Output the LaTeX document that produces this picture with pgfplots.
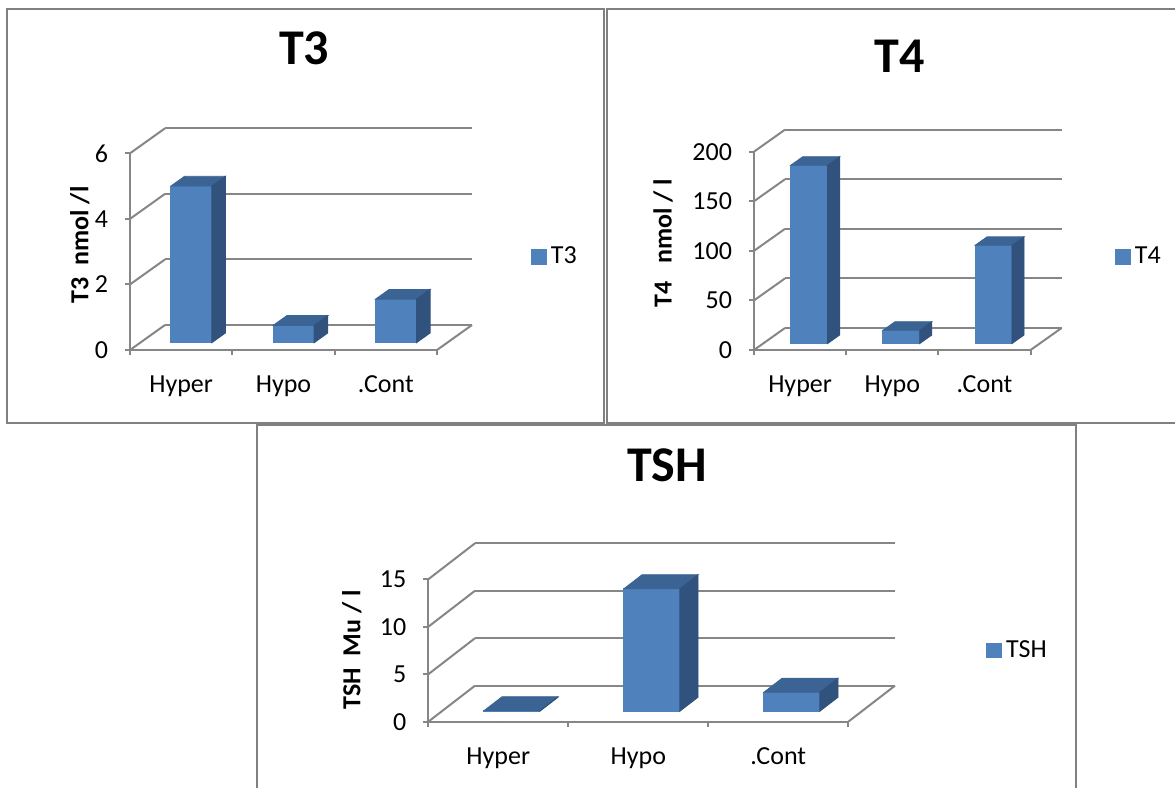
\documentclass[border=0pt]{standalone}
\usepackage{fontspec}
\setmainfont{Carlito}
\usepackage{pgfplots}
\pgfplotsset{compat=1.18}
\usetikzlibrary{calc}
\definecolor{barfront}{HTML}{4F81BD}
\definecolor{bartop}{HTML}{3B6494}
\definecolor{barside}{HTML}{31527D}
\definecolor{gridc}{HTML}{868686}
\definecolor{framec}{HTML}{808080}

\pgfplotsset{
  panel/.style={
    scale only axis, clip=false,
    xmin=0, xmax=3, ymin=0,
    anchor=south west,
    axis x line*=bottom, axis y line*=left,
    axis line style={gridc, line width=1pt, -},
    tick align=outside,
    xtick={0.5,1.5,2.5}, xticklabels={Hyper,Hypo,.Cont},
    major x tick style={draw=none},
    minor xtick={0,1,2,3},
    major tick length=2.5pt, minor tick length=2.5pt,
    tick style={gridc, line width=1pt},
    ticklabel style={font=\fontsize{13}{15}\selectfont, text=black},
    /pgf/number format/assume math mode=true,
    yticklabel style={xshift=-5pt},
    xticklabel style={yshift=-7pt},
    title style={font=\fontsize{25}{30}\selectfont\bfseries, anchor=center},
    ylabel style={font=\fontsize{13}{15}\selectfont\bfseries, anchor=center},
    legend style={draw=none, fill=none, inner sep=0pt, anchor=west,
      font=\fontsize{13}{15}\selectfont, legend cell align=left},
  },
  grid3d/.style={gridc, line width=1pt, forget plot, mark=none},
  bar3d/.style 2 args={
    scatter, only marks, mark=*, mark size=0pt,
    mark options={draw=none, fill=none},
    visualization depends on={rawy \as \barval},
    scatter/@pre marker code/.code={%
      \pgfmathsetlengthmacro\sax{0.29*#1*0.5pt}%
      \pgfmathsetlengthmacro\say{0.29*#2*0.5pt}%
      \pgfmathsetlengthmacro\sbx{0.68*#1*0.5pt}%
      \pgfmathsetlengthmacro\sby{0.68*#2*0.5pt}%
      \fill[barfront] ($(axis direction cs:-0.2,-\barval)+(\sax,\say)$) rectangle ($(axis direction cs:0.2,0)+(\sax,\say)$);
      \fill[bartop] ($(axis direction cs:-0.2,0)+(\sax,\say)$) -- ($(axis direction cs:0.2,0)+(\sax,\say)$) -- ($(axis direction cs:0.2,0)+(\sbx,\sby)$) -- ($(axis direction cs:-0.2,0)+(\sbx,\sby)$) -- cycle;
      \fill[barside] ($(axis direction cs:0.2,0)+(\sax,\say)$) -- ($(axis direction cs:0.2,-\barval)+(\sax,\say)$) -- ($(axis direction cs:0.2,-\barval)+(\sbx,\sby)$) -- ($(axis direction cs:0.2,0)+(\sbx,\sby)$) -- cycle;
    },
    scatter/@post marker code/.code={},
    legend image code/.code={\fill[barfront] (0pt,-3.7pt) rectangle (7.4pt,3.7pt);},
  },
}

\begin{document}
\begin{tikzpicture}
\useasboundingbox (0,0) rectangle (587.5pt,394pt);
% frames
\draw[framec, line width=1pt] (3.65pt,389.35pt) rectangle (302pt,182.65pt);
\draw[framec, line width=1pt] (587.5pt,389.35pt) -- (303.65pt,389.35pt) -- (303.65pt,182.65pt) -- (587.5pt,182.65pt);
\draw[framec, line width=1pt] (128.65pt,0pt) -- (128.65pt,181.35pt) -- (538pt,181.35pt) -- (538pt,0pt);

% ---------------- T3 ----------------
\begin{axis}[panel, at={(65pt,219pt)}, x=51.17pt, y=16.39pt, ymax=6, ytick={0,2,4,6},
  title={T3}, title style={at={(axis description cs:0.567,1.474)}},
  ylabel={T3\ \ nmol /l}, ylabel style={at={(axis description cs:-0.163,0.534)}},
  legend style={at={(axis description cs:1.306,0.473)}}]
\addplot[grid3d] coordinates {(0.342,0.763) (3.342,0.763)};
\addplot[grid3d] coordinates {(0.342,2.763) (3.342,2.763)};
\addplot[grid3d] coordinates {(0.342,4.763) (3.342,4.763)};
\addplot[grid3d] coordinates {(0.342,6.763) (3.342,6.763)};
\addplot[grid3d] coordinates {(0,0) (0.342,0.763)};
\addplot[grid3d] coordinates {(0,2) (0.342,2.763)};
\addplot[grid3d] coordinates {(0,4) (0.342,4.763)};
\addplot[grid3d] coordinates {(0,6) (0.342,6.763)};
\addplot[grid3d] coordinates {(3,0) (3.342,0.763)};
\addplot[bar3d={35}{25}] coordinates {(0.5,4.78) (1.5,0.53) (2.5,1.33)};
\addlegendentry{T3}
\end{axis}

% ---------------- T4 ----------------
\begin{axis}[panel, at={(377pt,219pt)}, x=46.1pt, y=0.4958pt, ymax=200, ytick={0,50,100,150,200},
  title={T4}, title style={at={(axis description cs:0.528,1.422)}},
  ylabel={T4\ \ \ nmol / l}, ylabel style={at={(axis description cs:-0.329,0.54)}},
  legend style={at={(axis description cs:1.305,0.469)}}]
\addplot[grid3d] coordinates {(0.336,22.18) (3.336,22.18)};
\addplot[grid3d] coordinates {(0.336,72.18) (3.336,72.18)};
\addplot[grid3d] coordinates {(0.336,122.18) (3.336,122.18)};
\addplot[grid3d] coordinates {(0.336,172.18) (3.336,172.18)};
\addplot[grid3d] coordinates {(0.336,222.18) (3.336,222.18)};
\addplot[grid3d] coordinates {(0,0) (0.336,22.18)};
\addplot[grid3d] coordinates {(0,50) (0.336,72.18)};
\addplot[grid3d] coordinates {(0,100) (0.336,122.18)};
\addplot[grid3d] coordinates {(0,150) (0.336,172.18)};
\addplot[grid3d] coordinates {(0,200) (0.336,222.18)};
\addplot[grid3d] coordinates {(3,0) (3.336,22.18)};
\addplot[bar3d={31}{22}] coordinates {(0.5,179.8) (1.5,13.4) (2.5,99.1)};
\addlegendentry{T4}
\end{axis}

% ---------------- TSH ----------------
\begin{axis}[panel, at={(214.15pt,33.15pt)}, x=70pt, y=4.747pt, ymax=15, ytick={0,5,10,15},
  title={TSH}, title style={at={(axis description cs:0.568,1.718)}},
  ylabel={TSH\ \ Mu / l}, ylabel style={at={(axis description cs:-0.182,0.504)}},
  legend style={at={(axis description cs:1.328,0.501)}}]
\addplot[grid3d] coordinates {(0.3336,3.793) (3.3336,3.793)};
\addplot[grid3d] coordinates {(0.3336,8.793) (3.3336,8.793)};
\addplot[grid3d] coordinates {(0.3336,13.793) (3.3336,13.793)};
\addplot[grid3d] coordinates {(0.3336,18.793) (3.3336,18.793)};
\addplot[grid3d] coordinates {(0,0) (0.3336,3.793)};
\addplot[grid3d] coordinates {(0,5) (0.3336,8.793)};
\addplot[grid3d] coordinates {(0,10) (0.3336,13.793)};
\addplot[grid3d] coordinates {(0,15) (0.3336,18.793)};
\addplot[grid3d] coordinates {(3,0) (3.3336,3.793)};
\addplot[bar3d={46.7}{36}] coordinates {(0.5,0.05) (1.5,12.9) (2.5,2.0)};
\addlegendentry{TSH}
\end{axis}
\end{tikzpicture}
\end{document}
